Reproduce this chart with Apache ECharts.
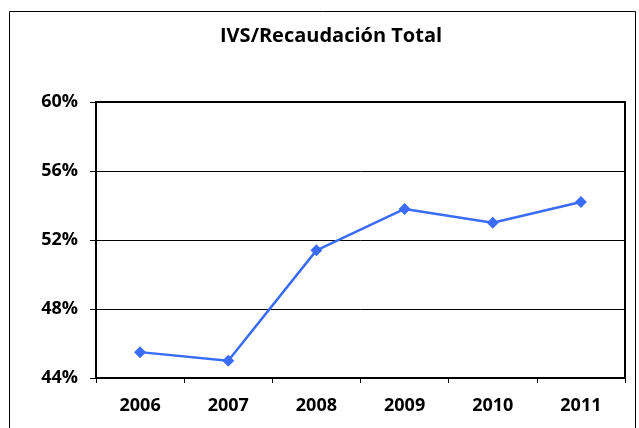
<!doctype html>
<html>
<head>
	<meta charset="utf-8">
	<title>IVS/Recaudación Total</title>
	<script src="https://cdn.jsdelivr.net/npm/echarts@6/dist/echarts.min.js"></script>
	<style>
		html, body { margin: 0; padding: 0; background: #fff; }
		#chart { width: 639px; height: 428px; }
	</style>
</head>
<body>
	<div id="chart"></div>
	<script>
		var years = ['2006', '2007', '2008', '2009', '2010', '2011'];
		var ivsRatio = [45.5, 45.0, 51.4, 53.8, 53.0, 54.2];
		var yTicks = [44, 48, 52, 56, 60];

		var chart = echarts.init(document.getElementById('chart'));
		chart.setOption({
			animation: false,
			title: {
				text: 'IVS/Recaudación Total',
				left: 215,
				top: 21,
				textStyle: {
					fontFamily: 'Open Sans',
					fontWeight: 'bold',
					fontSize: 20,
					color: '#000'
				}
			},
			graphic: [{
				type: 'rect',
				shape: { x: 9.5, y: 11.5, width: 626, height: 430 },
				style: { fill: 'none', stroke: '#000', lineWidth: 1 },
				silent: true
			}],
			grid: {
				left: 96,
				right: 14,
				top: 102,
				bottom: 50,
				show: true,
				borderColor: '#000',
				borderWidth: 2
			},
			xAxis: {
				type: 'category',
				data: years,
				boundaryGap: true,
				axisLine: { lineStyle: { color: '#000', width: 2 } },
				axisTick: { show: true, length: 5, lineStyle: { color: '#000', width: 1 } },
				axisLabel: {
					margin: 19,
					fontFamily: 'Open Sans',
					fontWeight: 'bold',
					fontSize: 18,
					color: '#000'
				}
			},
			yAxis: {
				type: 'value',
				min: yTicks[0],
				max: yTicks[yTicks.length - 1],
				interval: 4,
				axisLine: { show: true, lineStyle: { color: '#000', width: 2 } },
				axisTick: { show: true, length: 6, lineStyle: { color: '#000', width: 1 } },
				splitLine: { lineStyle: { color: '#000', width: 1 } },
				axisLabel: {
					margin: 18,
					formatter: '{value}%',
					fontFamily: 'Open Sans',
					fontWeight: 'bold',
					fontSize: 18,
					color: '#000'
				}
			},
			series: [{
				type: 'line',
				data: ivsRatio,
				symbol: 'diamond',
				symbolSize: 12,
				lineStyle: { color: '#3b6cf6', width: 2.5 },
				itemStyle: { color: '#3b6cf6' }
			}]
		});
	</script>
</body>
</html>
